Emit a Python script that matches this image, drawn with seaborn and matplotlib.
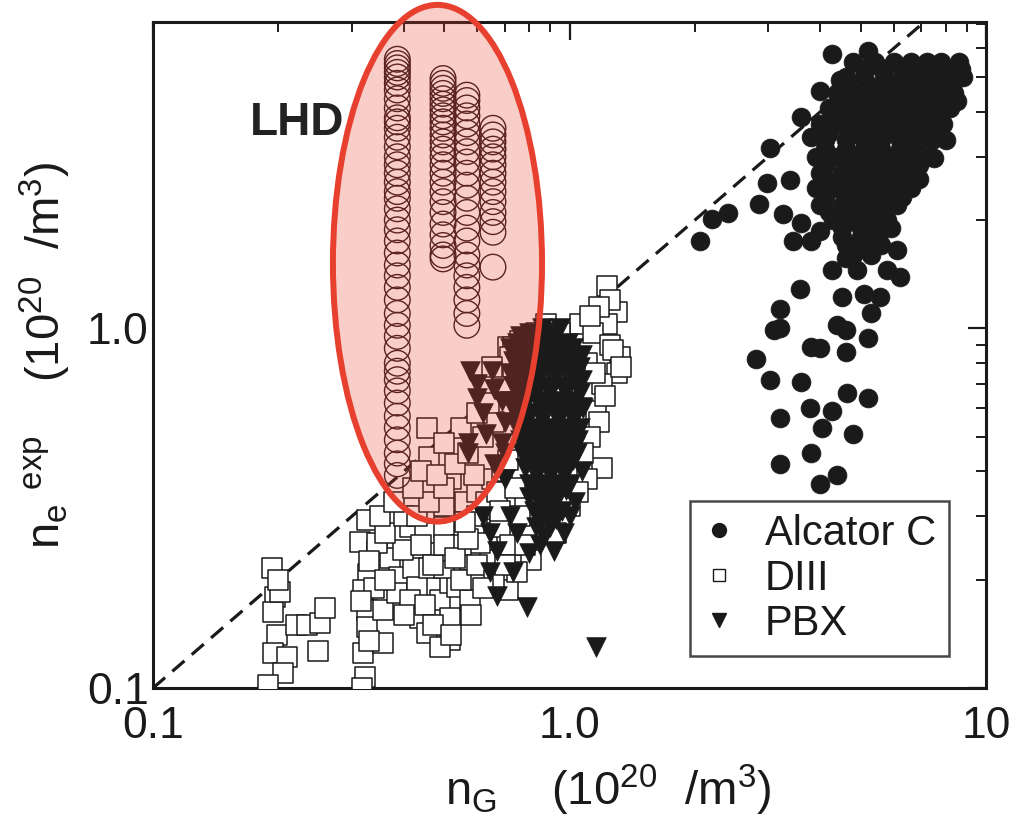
import numpy as np
import pandas as pd
import matplotlib
matplotlib.use("Agg")
import matplotlib.pyplot as plt
import seaborn as sns
from matplotlib.patches import Ellipse
from matplotlib.lines import Line2D
from matplotlib.ticker import LogLocator, NullFormatter, FixedLocator, FixedFormatter

# ---------------- data ----------------
lhd_x_cols = [0.386, 0.497, 0.567, 0.655]
lhd_y_cols = [
    [5.6, 5.45, 5.3, 5.15, 5.0, 4.8, 4.6, 4.35, 4.1, 3.85, 3.75, 3.6, 3.4, 3.2, 3.0,
     2.85, 2.7, 2.55, 2.4, 2.3, 2.15, 2.0, 1.88, 1.75, 1.62, 1.5, 1.4, 1.3, 1.2, 1.1,
     1.02, 0.95, 0.88, 0.8, 0.76, 0.72, 0.67, 0.62, 0.57, 0.53, 0.49, 0.45, 0.42, 0.39],
    [4.95, 4.8, 4.65, 4.5, 4.35, 4.2, 4.05, 3.9, 3.75, 3.6, 3.45, 3.3, 3.15, 3.0, 2.85,
     2.7, 2.55, 2.4, 2.25, 2.1, 1.95, 1.82, 1.7, 1.6, 1.56],
    [4.45, 4.3, 4.1, 3.9, 3.7, 3.5, 3.3, 3.1, 2.9, 2.7, 2.5, 2.3, 2.1, 1.9, 1.75, 1.6,
     1.5, 1.4, 1.3, 1.2, 1.1, 1.02],
    [3.6, 3.45, 3.3, 3.15, 3.0, 2.85, 2.7, 2.55, 2.4, 2.25, 2.1, 1.98, 1.85, 1.48],
]

diii_points = [
    (0.193, 0.215), (0.196, 0.179), (0.194, 0.163), (0.198, 0.14), (0.194, 0.125),
    (0.21, 0.122), (0.205, 0.11), (0.189, 0.102), (0.22, 0.15), (0.234, 0.15),
    (0.252, 0.152), (0.259, 0.167), (0.249, 0.127), (0.202, 0.185), (0.2, 0.2),
    (0.326, 0.293), (0.314, 0.254), (0.345, 0.242), (0.328, 0.208), (0.319, 0.187),
    (0.326, 0.165), (0.326, 0.148), (0.319, 0.125), (0.322, 0.107), (0.356, 0.165),
    (0.356, 0.133), (0.37, 0.23), (0.39, 0.204), (0.385, 0.184), (0.345, 0.253),
    (0.33, 0.225), (0.34, 0.19), (0.315, 0.175), (0.33, 0.135), (0.318, 0.1),
    (0.42, 0.216), (0.43, 0.191), (0.414, 0.176), (0.437, 0.157), (0.454, 0.142),
    (0.47, 0.253), (0.488, 0.176), (0.516, 0.196), (0.516, 0.157), (0.516, 0.136),
    (0.536, 0.191), (0.577, 0.176), (0.414, 0.28), (0.398, 0.242), (0.46, 0.216),
    (0.577, 0.227), (0.634, 0.258), (0.62, 0.306), (0.5, 0.216), (0.55, 0.2),
    (0.535, 0.3), (0.59, 0.28), (0.645, 0.315), (0.61, 0.253), (0.71, 0.187),
    (0.81, 0.227), (0.93, 0.27), (0.48, 0.24), (0.45, 0.27), (0.5, 0.28),
    (0.55, 0.25), (0.6, 0.22), (0.66, 0.2), (0.56, 0.33), (0.6, 0.35),
    (0.65, 0.38), (0.7, 0.33), (0.68, 0.28), (0.72, 0.25), (0.75, 0.21),
    (0.36, 0.27), (0.4, 0.3), (0.43, 0.3), (0.44, 0.25), (0.47, 0.22),
    (0.5, 0.25), (0.53, 0.23), (0.57, 0.26), (0.6, 0.3), (0.63, 0.33),
    (0.67, 0.35), (0.69, 0.4), (0.71, 0.43), (0.68, 0.31), (0.74, 0.36),
    (0.76, 0.3), (0.78, 0.25), (0.7, 0.22), (0.62, 0.19), (0.58, 0.16),
    (0.45, 0.17), (0.47, 0.15), (0.4, 0.16), (0.36, 0.2), (0.35, 0.3),
    (0.38, 0.33), (0.5, 0.32), (0.52, 0.38), (0.46, 0.33), (0.56, 0.29),
    (0.454, 0.53), (0.55, 0.53), (0.46, 0.44), (0.5, 0.36), (0.42, 0.36),
    (0.59, 0.39), (0.44, 0.4), (0.48, 0.39), (0.53, 0.42), (0.5, 0.48),
    (0.57, 0.45), (0.62, 0.5), (0.66, 0.55), (0.6, 0.58), (0.64, 0.62),
    (0.71, 0.89), (0.76, 0.92), (0.7, 0.68), (0.73, 0.78),
    (1.23, 1.31), (1.30, 1.11), (1.23, 1.03), (1.32, 0.83), (1.30, 0.75),
    (1.06, 1.03), (1.14, 0.97), (0.88, 1.03), (0.95, 0.97), (1.16, 0.59),
    (1.18, 0.55), (0.83, 0.97), (0.73, 0.89), (0.72, 0.83), (0.65, 0.78),
    (1.2, 0.41), (1.25, 1.2), (1.18, 1.15), (1.12, 1.08), (1.25, 0.9),
    (1.2, 0.7), (1.22, 0.65), (1.1, 0.8), (1.15, 0.75), (1.12, 0.5),
    (1.08, 0.45), (1.1, 0.38), (1.05, 0.35), (1.0, 0.32), (1.27, 0.87),
    (1.33, 0.78), (0.49, 0.13), (0.52, 0.14),
]

pbx_points = [
    (0.86, 1.0), (0.95, 1.0), (0.8, 0.97), (0.88, 0.97),
    (0.76, 0.95), (0.84, 0.95), (0.92, 0.95),
    (0.75, 0.91), (0.83, 0.91), (0.91, 0.91), (0.99, 0.91),
    (0.72, 0.88), (0.79, 0.88), (0.87, 0.88), (0.95, 0.88), (1.02, 0.88),
    (0.76, 0.845), (0.84, 0.845), (0.92, 0.845), (1.0, 0.845), (1.07, 0.845),
    (0.73, 0.81), (0.8, 0.81), (0.88, 0.81), (0.96, 0.81), (1.04, 0.81),
    (0.75, 0.78), (0.83, 0.78), (0.9, 0.78), (0.98, 0.78), (1.06, 0.78),
    (0.72, 0.75), (0.79, 0.75), (0.86, 0.75), (0.94, 0.75), (1.02, 0.75),
    (0.76, 0.72), (0.84, 0.72), (0.92, 0.72), (1.0, 0.72), (1.07, 0.72),
    (0.73, 0.69), (0.8, 0.69), (0.88, 0.69), (0.96, 0.69), (1.04, 0.69),
    (0.76, 0.66), (0.83, 0.66), (0.9, 0.66), (0.98, 0.66), (1.06, 0.66),
    (0.72, 0.63), (0.79, 0.63), (0.86, 0.63), (0.94, 0.63), (1.02, 0.63),
    (0.77, 0.605), (0.85, 0.605), (0.92, 0.605), (1.0, 0.605), (1.07, 0.605),
    (0.74, 0.58), (0.81, 0.58), (0.88, 0.58), (0.96, 0.58), (1.04, 0.58),
    (0.78, 0.555), (0.86, 0.555), (0.94, 0.555), (1.02, 0.555),
    (0.75, 0.53), (0.82, 0.53), (0.9, 0.53), (0.98, 0.53), (1.06, 0.53),
    (0.79, 0.51), (0.87, 0.51), (0.95, 0.51), (1.02, 0.51),
    (0.76, 0.49), (0.83, 0.49), (0.91, 0.49), (0.99, 0.49), (1.05, 0.49),
    (0.8, 0.47), (0.88, 0.47), (0.96, 0.47), (1.03, 0.47),
    (0.77, 0.45), (0.84, 0.45), (0.92, 0.45), (1.0, 0.45), (1.04, 0.45),
    (0.81, 0.43), (0.88, 0.43), (0.96, 0.43), (1.02, 0.43),
    (0.78, 0.41), (0.85, 0.41), (0.92, 0.41), (0.99, 0.41),
    (0.83, 0.39), (0.9, 0.39), (0.97, 0.39),
    (0.8, 0.37), (0.87, 0.37), (0.94, 0.37), (1.0, 0.37),
    (0.84, 0.355), (0.91, 0.355), (0.98, 0.355),
    (0.8, 0.34), (0.87, 0.34), (0.94, 0.34),
    (0.85, 0.325), (0.92, 0.325),
    (0.82, 0.31), (0.89, 0.31), (0.96, 0.31),
    (0.86, 0.295), (0.93, 0.295),
    (0.83, 0.28), (0.9, 0.28), (0.87, 0.265), (0.85, 0.25),
    (0.577, 0.76), (0.65, 0.76), (0.6, 0.64), (0.69, 0.63), (0.63, 0.51),
    (0.57, 0.48), (0.69, 0.48), (0.57, 0.45), (0.645, 0.27), (0.67, 0.24),
    (0.73, 0.21), (0.645, 0.21), (0.67, 0.18), (0.79, 0.168), (0.8, 0.237),
    (1.0, 0.3), (0.62, 0.3), (1.16, 0.13), (0.6, 0.7), (0.66, 0.68),
    (0.62, 0.58), (0.7, 0.55), (0.66, 0.42), (0.7, 0.38), (0.72, 0.3),
    (0.75, 0.27), (0.7, 0.45), (0.92, 0.24), (0.97, 0.27), (1.03, 0.33),
    (1.07, 0.4), (1.08, 0.6),
]

alcator_points = [
    (4.27, 5.81), (5.2, 5.92), (3.03, 3.18), (2.2, 2.02), (2.4, 2.09), (2.06, 1.75),
    (2.98, 2.53), (3.38, 2.58), (2.85, 2.22), (3.25, 2.08), (3.6, 1.96), (3.44, 1.75),
    (3.8, 1.75), (3.57, 1.29), (3.2, 1.13), (3.1, 0.99), (3.2, 1.0), (2.8, 0.82),
    (3.03, 0.72), (3.6, 0.71), (3.8, 0.89), (4.0, 0.88), (4.6, 0.86), (3.2, 0.565),
    (3.78, 0.60), (4.28, 0.59), (4.65, 0.66), (5.2, 0.64), (4.05, 0.53), (4.8, 0.51),
    (3.2, 0.42), (3.8, 0.45), (4.0, 0.37), (4.4, 0.39), (4.27, 1.45), (4.5, 1.22),
    (4.4, 1.02), (4.6, 0.99), (5.2, 0.94), (5.1, 1.25), (5.3, 1.1), (5.56, 1.22),
    (5.8, 1.45), (6.2, 1.39), (5.9, 1.9), (6.1, 1.65), (5.2, 1.8), (4.6, 1.57),
    (4.9, 1.45), (4.0, 1.87), (4.27, 2.08), (4.0, 4.58), (4.46, 4.89), (3.6, 3.86),
    (3.8, 3.4), (5.4, 5.4), (6.4, 5.3), (8.5, 5.2), (8.2, 4.58), (8.0, 3.33),
    (7.5, 2.98), (6.9, 2.6),
    (4.8, 5.5), (5.4, 5.5), (6.0, 5.5), (6.6, 5.5), (7.2, 5.5), (7.8, 5.5), (8.6, 5.5),
    (5.1, 5.25), (5.7, 5.25), (6.3, 5.25), (6.9, 5.25), (7.5, 5.25), (8.1, 5.25), (8.7, 5.25),
    (4.6, 5.0), (5.1, 5.0), (5.7, 5.0), (6.3, 5.0), (6.9, 5.0), (7.5, 5.0), (8.2, 5.0), (8.8, 5.0),
    (4.65, 4.75), (5.2, 4.75), (5.8, 4.75), (6.4, 4.75), (7.0, 4.75), (7.6, 4.75), (8.3, 4.75),
    (4.4, 4.5), (4.9, 4.5), (5.4, 4.5), (6.0, 4.5), (6.6, 4.5), (7.2, 4.5), (7.8, 4.5), (8.4, 4.5),
    (4.5, 4.3), (5.0, 4.3), (5.5, 4.3), (6.1, 4.3), (6.7, 4.3), (7.3, 4.3), (7.9, 4.3), (8.5, 4.3),
    (4.2, 4.1), (4.7, 4.1), (5.2, 4.1), (5.8, 4.1), (6.4, 4.1), (7.0, 4.1), (7.6, 4.1), (8.2, 4.1),
    (4.3, 3.9), (4.8, 3.9), (5.3, 3.9), (5.9, 3.9), (6.5, 3.9), (7.1, 3.9), (7.7, 3.9),
    (4.0, 3.7), (4.5, 3.7), (5.0, 3.7), (5.5, 3.7), (6.1, 3.7), (6.7, 3.7), (7.3, 3.7), (7.9, 3.7),
    (4.2, 3.5), (4.7, 3.5), (5.2, 3.5), (5.8, 3.5), (6.4, 3.5), (7.0, 3.5), (7.6, 3.5),
    (4.1, 3.35), (4.6, 3.35), (5.1, 3.35), (5.6, 3.35), (6.2, 3.35), (6.8, 3.35), (7.4, 3.35),
    (4.1, 3.15), (4.6, 3.15), (5.1, 3.15), (5.6, 3.15), (6.2, 3.15), (6.8, 3.15),
    (3.9, 3.0), (4.4, 3.0), (4.9, 3.0), (5.4, 3.0), (6.0, 3.0), (6.6, 3.0), (7.2, 3.0),
    (4.1, 2.85), (4.6, 2.85), (5.1, 2.85), (5.7, 2.85), (6.3, 2.85), (6.9, 2.85),
    (4.0, 2.7), (4.5, 2.7), (5.0, 2.7), (5.5, 2.7), (6.1, 2.7), (6.7, 2.7),
    (4.2, 2.57), (4.7, 2.57), (5.2, 2.57), (5.8, 2.57), (6.4, 2.57),
    (3.9, 2.45), (4.4, 2.45), (4.9, 2.45), (5.4, 2.45), (6.0, 2.45), (6.6, 2.45),
    (4.1, 2.32), (4.6, 2.32), (5.2, 2.32), (5.7, 2.32), (6.3, 2.32),
    (4.0, 2.2), (4.5, 2.2), (5.0, 2.2), (5.5, 2.2), (6.1, 2.2),
    (4.2, 2.1), (4.7, 2.1), (5.2, 2.1), (5.7, 2.1),
    (4.3, 2.0), (4.8, 2.0), (5.3, 2.0), (5.8, 2.0),
    (4.5, 1.9), (5.0, 1.9), (5.5, 1.9),
    (4.5, 1.8), (5.0, 1.8), (5.5, 1.8),
    (4.6, 1.7), (5.1, 1.7), (5.6, 1.7),
    (4.8, 1.6), (5.3, 1.6),
]

legend_labels = ["Alcator C", "DIII", "PBX"]
x_tick_values = [0.1, 1.0, 10.0]
x_tick_labels = ["0.1", "1.0", "10"]
y_tick_values = [0.1, 1.0]
y_tick_labels = ["0.1", "1.0"]

# ---------------- build frames ----------------
lhd_df = pd.DataFrame(
    [(x, y) for x, ys in zip(lhd_x_cols, lhd_y_cols) for y in ys], columns=["x", "y"]
)
diii_df = pd.DataFrame(diii_points, columns=["x", "y"])
pbx_df = pd.DataFrame(pbx_points, columns=["x", "y"])
alc_df = pd.DataFrame(alcator_points, columns=["x", "y"])

# ---------------- style ----------------
sns.set_theme(style="white")
plt.rcParams["font.family"] = ["Liberation Sans", "DejaVu Sans"]
plt.rcParams["mathtext.fontset"] = "custom"
plt.rcParams["mathtext.rm"] = "Liberation Sans"
plt.rcParams["mathtext.it"] = "Liberation Sans"
plt.rcParams["mathtext.default"] = "regular"

fig = plt.figure(figsize=(10.29, 8.22), dpi=100)
ax = fig.add_axes([0.1487, 0.163, 0.8095, 0.810])
ax.set_xscale("log")
ax.set_yscale("log")

ink = "#1a1a1a"

sns.scatterplot(data=diii_df, x="x", y="y", marker="s", s=190, facecolor="white",
                edgecolor=ink, linewidth=1.1, ax=ax, legend=False, zorder=3)
sns.scatterplot(data=pbx_df, x="x", y="y", marker="v", s=200, color=ink,
                edgecolor=ink, linewidth=0.5, ax=ax, legend=False, zorder=4)
sns.scatterplot(data=alc_df, x="x", y="y", marker="o", s=185, color=ink,
                edgecolor=ink, linewidth=0.5, ax=ax, legend=False, zorder=4)
sns.scatterplot(data=lhd_df, x="x", y="y", marker="o", s=340, facecolor="none",
                edgecolor="#2a1a1a", linewidth=1.0, ax=ax, legend=False, zorder=5)

# y = x reference
ax.plot([0.1, 10], [0.1, 10], ls=(0, (5, 3)), color=ink, lw=2.3, zorder=2)

ax.set_xlim(0.1, 10)
ax.set_ylim(0.1, 7.1)

ax.xaxis.set_major_locator(FixedLocator(x_tick_values))
ax.xaxis.set_major_formatter(FixedFormatter(x_tick_labels))
ax.yaxis.set_major_locator(FixedLocator(y_tick_values))
ax.yaxis.set_major_formatter(FixedFormatter(y_tick_labels))
ax.xaxis.set_minor_locator(LogLocator(base=10, subs=np.arange(2, 10)))
ax.yaxis.set_minor_locator(LogLocator(base=10, subs=np.arange(2, 10)))
ax.xaxis.set_minor_formatter(NullFormatter())
ax.yaxis.set_minor_formatter(NullFormatter())

ax.tick_params(which="both", direction="in", top=True, right=True, colors=ink)
ax.tick_params(which="major", length=13, width=1.6, labelsize=32)
ax.tick_params(which="minor", length=7, width=1.4)
ax.tick_params(axis="x", which="major", pad=13)
ax.tick_params(axis="y", which="major", pad=3)
for sp in ax.spines.values():
    sp.set_linewidth(2.2)
    sp.set_color(ink)

ax.set_xlabel(r"n$_G$    (10$^{20}$  /m$^3$)", fontsize=34, color=ink)
ax.xaxis.set_label_coords(0.547, -0.112)
ax.set_ylabel(r"n$_e$ $^{exp}$    (10$^{20}$  /m$^3$)", fontsize=34, color=ink, labelpad=10)

ax.text(0.116, 0.83, "LHD", transform=ax.transAxes, fontsize=33, fontweight="bold",
        color="#222222", ha="left", va="baseline", zorder=6)

# highlight ellipse (annotation)
ell = Ellipse((0.3415, 0.638), width=0.251, height=0.776, transform=ax.transAxes,
              facecolor=(0.91, 0.25, 0.18, 0.26), edgecolor="#e8402f", linewidth=4.3,
              zorder=7, clip_on=False)
ax.add_patch(ell)

handles = [
    Line2D([], [], marker="o", ls="none", markersize=10, color=ink),
    Line2D([], [], marker="s", ls="none", markersize=9, markerfacecolor="white",
           markeredgecolor=ink, markeredgewidth=1.0),
    Line2D([], [], marker="v", ls="none", markersize=10, color=ink),
]
leg = ax.legend(handles, legend_labels, loc="lower right", bbox_to_anchor=(0.955, 0.048),
                fontsize=30, frameon=True, fancybox=False, edgecolor=ink,
                handlelength=0.8, handletextpad=0.7, labelspacing=0.12,
                borderpad=0.3, borderaxespad=0.0)
leg.get_frame().set_linewidth(1.8)
leg.set_zorder(8)
for t in leg.get_texts():
    t.set_color(ink)

fig.savefig("out.png", dpi=100)
